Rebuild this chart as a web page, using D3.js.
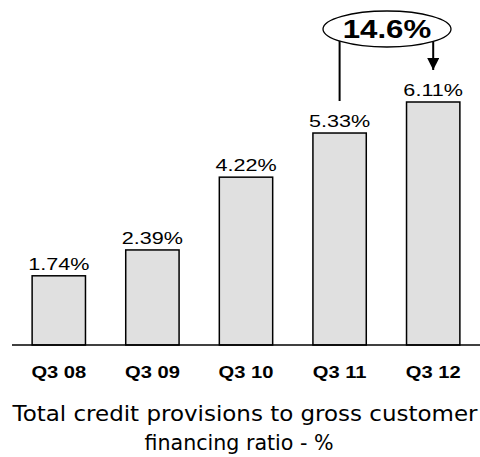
<!DOCTYPE html>
<html>
<head>
<meta charset="utf-8">
<script src="https://cdn.jsdelivr.net/npm/d3@7"></script>
<style>
  body { margin: 0; background: #fff; }
</style>
</head>
<body>
<div id="chart"></div>
<script>
const width = 480;
const height = 457;

// data
const quarters = ["Q3 08", "Q3 09", "Q3 10", "Q3 11", "Q3 12"];
const ratios = [1.74, 2.39, 4.22, 5.33, 6.11];
const growthLabel = "14.6%";
const titleLines = ["Total credit provisions to gross customer", "financing ratio - %"];

const baseline = 345;
const sans = "'Liberation Sans', Arial, sans-serif";

const svg = d3.select("#chart").append("svg")
    .attr("width", width)
    .attr("height", height);

const x = d3.scaleBand()
    .domain(quarters)
    .range([12, 480])
    .paddingInner(0.43)
    .paddingOuter(0.215);

const y = d3.scaleLinear()
    .domain([0, d3.max(ratios)])
    .range([baseline, 102]);

// stretch text a bit wider, like the original
function stretch(sel, factor) {
    sel.each(function() {
        const w = this.getComputedTextLength();
        d3.select(this)
            .attr("textLength", w * factor)
            .attr("lengthAdjust", "spacingAndGlyphs");
    });
}

// bars
svg.selectAll("rect.bar")
    .data(ratios)
    .enter().append("rect")
    .attr("class", "bar")
    .attr("x", (d, i) => x(quarters[i]))
    .attr("y", d => y(d))
    .attr("width", x.bandwidth())
    .attr("height", d => baseline - y(d))
    .attr("fill", "#e0e0e0")
    .attr("stroke", "#000")
    .attr("stroke-width", 1.5);

// value labels
svg.selectAll("text.val")
    .data(ratios)
    .enter().append("text")
    .attr("class", "val")
    .attr("x", (d, i) => x(quarters[i]) + x.bandwidth() / 2)
    .attr("y", d => y(d) - 6)
    .attr("text-anchor", "middle")
    .style("font-family", sans)
    .style("font-size", "17px")
    .attr("fill", "#000")
    .text(d => d.toFixed(2) + "%")
    .call(stretch, 1.27);

// baseline axis
const xAxis = d3.axisBottom(x).tickSize(0).tickPadding(22);
const gx = svg.append("g")
    .attr("transform", `translate(0,${baseline})`)
    .call(xAxis);
gx.attr("font-family", null).attr("font-size", null);
gx.select(".domain")
    .attr("d", `M12,0H480`)
    .attr("stroke", "#000")
    .attr("stroke-width", 1.5);
gx.selectAll(".tick text")
    .style("font-family", sans)
    .style("font-size", "16.5px")
    .style("font-weight", "bold")
    .attr("fill", "#000")
    .attr("dy", "0")
    .attr("y", 33)
    .call(stretch, 1.22);

// growth annotation
const c4 = x(quarters[3]) + x.bandwidth() / 2;
const c5 = x(quarters[4]) + x.bandwidth() / 2;
const ell = { cx: 387, cy: 29, rx: 64, ry: 18 };

svg.append("defs").append("marker")
    .attr("id", "arrow")
    .attr("viewBox", "0 0 10 10")
    .attr("refX", 10).attr("refY", 5)
    .attr("markerWidth", 6).attr("markerHeight", 6)
    .attr("markerUnits", "strokeWidth")
    .attr("orient", "auto")
    .append("path")
    .attr("d", "M0,0L10,5L0,10Z")
    .attr("fill", "#000");

svg.append("line")
    .attr("x1", c4).attr("x2", c4)
    .attr("y1", ell.cy + 12).attr("y2", y(ratios[3]) - 32)
    .attr("stroke", "#000").attr("stroke-width", 2);

svg.append("line")
    .attr("x1", c5).attr("x2", c5)
    .attr("y1", ell.cy + 12).attr("y2", y(ratios[4]) - 32)
    .attr("stroke", "#000").attr("stroke-width", 2)
    .attr("marker-end", "url(#arrow)");

svg.append("ellipse")
    .attr("cx", ell.cx).attr("cy", ell.cy)
    .attr("rx", ell.rx).attr("ry", ell.ry)
    .attr("fill", "#fff")
    .attr("stroke", "#000")
    .attr("stroke-width", 1.3);

svg.append("text")
    .attr("x", ell.cx)
    .attr("y", ell.cy + 9)
    .attr("text-anchor", "middle")
    .style("font-family", sans)
    .style("font-size", "26px")
    .style("font-weight", "bold")
    .text(growthLabel)
    .call(stretch, 1.2);

// title
svg.selectAll("text.title")
    .data(titleLines)
    .enter().append("text")
    .attr("class", "title")
    .attr("x", (d, i) => i === 0 ? 245 : 239)
    .attr("y", (d, i) => 421 + i * 29)
    .attr("text-anchor", "middle")
    .style("font-family", "'DejaVu Sans', sans-serif")
    .style("font-size", "21px")
    .attr("fill", "#000")
    .text(d => d)
    .each(function(d, i) {
        d3.select(this)
            .attr("textLength", i === 0 ? 465 : 189)
            .attr("lengthAdjust", "spacingAndGlyphs");
    });
</script>
</body>
</html>
